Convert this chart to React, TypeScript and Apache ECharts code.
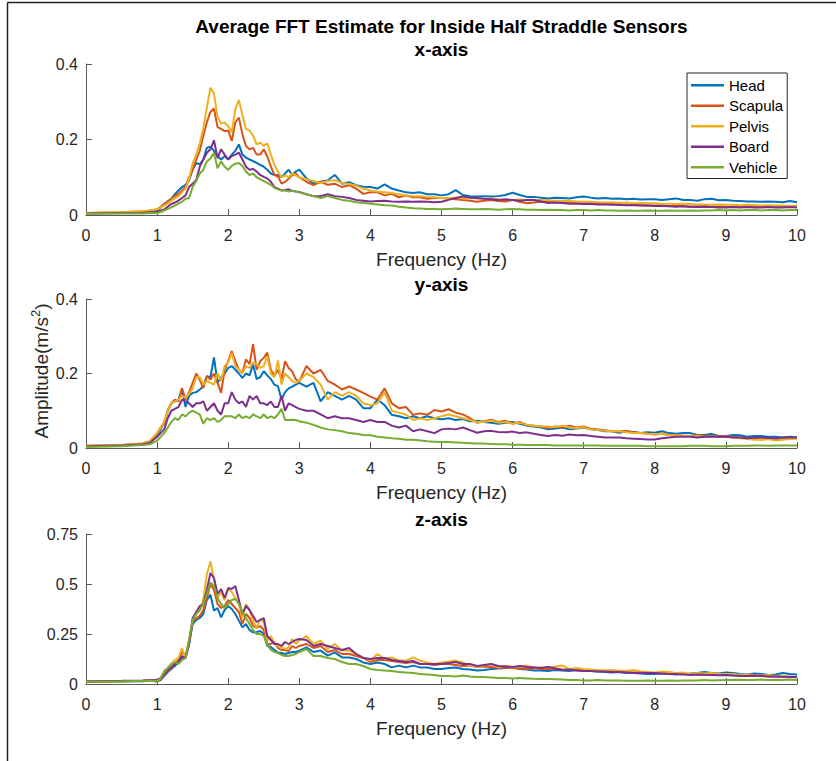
import { useEffect, useRef } from "react";
import * as echarts from "echarts";

const freq = [
  0, 0.5, 0.8, 0.9,
  1.0, 1.05, 1.1, 1.15, 1.2, 1.25, 1.3, 1.35, 1.4, 1.45, 1.5, 1.55, 1.6, 1.65, 1.7, 1.75, 1.8, 1.85, 1.9, 1.95,
  2.0, 2.05, 2.1, 2.15, 2.2, 2.25, 2.3, 2.35, 2.4, 2.45, 2.5, 2.55, 2.6, 2.65, 2.7, 2.75, 2.8, 2.85, 2.9, 2.95, 3.0,
  3.1, 3.2, 3.3, 3.4, 3.5, 3.6, 3.7, 3.8, 3.9, 4.0, 4.1, 4.2, 4.3, 4.4, 4.5, 4.6, 4.7, 4.8, 4.9, 5.0,
  5.1, 5.2, 5.3, 5.4, 5.5, 5.6, 5.7, 5.8, 5.9, 6.0, 6.1, 6.2, 6.3, 6.4, 6.5, 6.6, 6.7, 6.8, 6.9, 7.0,
  7.1, 7.2, 7.3, 7.4, 7.5, 7.6, 7.7, 7.8, 7.9, 8.0, 8.1, 8.2, 8.3, 8.4, 8.5, 8.6, 8.7, 8.8, 8.9, 9.0,
  9.1, 9.2, 9.3, 9.4, 9.5, 9.6, 9.7, 9.8, 9.9, 10.0,
];

const sensors = ["Head", "Scapula", "Pelvis", "Board", "Vehicle"];
const colors = ["#0072BD", "#D95319", "#EDB120", "#7E2F8E", "#77AC30"];
const panelTitles = ["x-axis", "y-axis", "z-axis"];
const yMax = [0.4, 0.4, 0.75];
const yStep = [0.2, 0.2, 0.25];

// ---- x-axis panel ----
const xHead = [
  0.005, 0.006, 0.007, 0.008,
  0.011, 0.02, 0.029, 0.036, 0.043, 0.055, 0.065, 0.074, 0.08, 0.092, 0.12, 0.138, 0.134, 0.147, 0.178, 0.181, 0.17, 0.156, 0.147, 0.156,
  0.147, 0.16, 0.17, 0.187, 0.16, 0.152, 0.147, 0.143, 0.138, 0.133, 0.128, 0.12, 0.11, 0.106, 0.106, 0.1, 0.11, 0.12, 0.106, 0.115, 0.12,
  0.097, 0.083, 0.088, 0.092, 0.106, 0.083, 0.087, 0.079, 0.075, 0.074, 0.07, 0.081, 0.07, 0.065, 0.06, 0.058, 0.06, 0.055, 0.055, 0.052,
  0.055, 0.066, 0.053, 0.05, 0.049, 0.05, 0.049, 0.05, 0.053, 0.059, 0.053, 0.048, 0.048, 0.046, 0.044, 0.046, 0.045, 0.044, 0.047, 0.049,
  0.046, 0.044, 0.045, 0.043, 0.044, 0.042, 0.043, 0.041, 0.042, 0.042, 0.04, 0.042, 0.044, 0.04, 0.04, 0.038, 0.042, 0.043, 0.039, 0.04,
  0.038, 0.037, 0.036, 0.036, 0.035, 0.036, 0.035, 0.034, 0.037, 0.034,
];
const xScapula = [
  0.005, 0.007, 0.01, 0.012,
  0.015, 0.022, 0.029, 0.035, 0.043, 0.05, 0.056, 0.065, 0.074, 0.1, 0.12, 0.147, 0.17, 0.21, 0.246, 0.273, 0.282, 0.233, 0.228, 0.222,
  0.224, 0.196, 0.245, 0.258, 0.214, 0.183, 0.174, 0.178, 0.16, 0.16, 0.174, 0.155, 0.128, 0.106, 0.102, 0.083, 0.088, 0.096, 0.106, 0.11, 0.1,
  0.088, 0.079, 0.088, 0.08, 0.083, 0.074, 0.079, 0.07, 0.056, 0.06, 0.06, 0.052, 0.056, 0.047, 0.052, 0.047, 0.047, 0.043, 0.045, 0.045,
  0.043, 0.042, 0.04, 0.038, 0.035, 0.038, 0.04, 0.037, 0.036, 0.04, 0.035, 0.031, 0.033, 0.036, 0.035, 0.034, 0.033, 0.035, 0.031, 0.031,
  0.032, 0.03, 0.03, 0.029, 0.027, 0.028, 0.027, 0.026, 0.025, 0.025, 0.026, 0.024, 0.025, 0.023, 0.022, 0.023, 0.024, 0.022, 0.023, 0.022,
  0.022, 0.023, 0.022, 0.024, 0.023, 0.022, 0.024, 0.023, 0.024, 0.024,
];
const xPelvis = [
  0.005, 0.007, 0.01, 0.012,
  0.015, 0.02, 0.025, 0.03, 0.038, 0.044, 0.05, 0.06, 0.07, 0.095, 0.137, 0.16, 0.19, 0.23, 0.285, 0.337, 0.323, 0.26, 0.242, 0.245,
  0.236, 0.219, 0.28, 0.305, 0.264, 0.228, 0.224, 0.21, 0.187, 0.192, 0.183, 0.19, 0.16, 0.133, 0.115, 0.1, 0.105, 0.1, 0.11, 0.105, 0.1,
  0.095, 0.09, 0.085, 0.09, 0.092, 0.085, 0.082, 0.078, 0.07, 0.065, 0.062, 0.06, 0.058, 0.055, 0.052, 0.05, 0.05, 0.048, 0.047, 0.045,
  0.045, 0.046, 0.044, 0.045, 0.044, 0.043, 0.044, 0.042, 0.041, 0.04, 0.041, 0.04, 0.039, 0.04, 0.039, 0.038, 0.038, 0.037, 0.036, 0.035,
  0.035, 0.034, 0.033, 0.034, 0.032, 0.033, 0.031, 0.032, 0.031, 0.031, 0.03, 0.03, 0.029, 0.03, 0.029, 0.028, 0.028, 0.027, 0.028, 0.027,
  0.027, 0.026, 0.027, 0.026, 0.025, 0.026, 0.025, 0.025, 0.024, 0.025,
];
const xBoard = [
  0.004, 0.005, 0.006, 0.007,
  0.008, 0.012, 0.015, 0.022, 0.029, 0.033, 0.038, 0.045, 0.052, 0.074, 0.083, 0.092, 0.128, 0.147, 0.165, 0.174, 0.198, 0.151, 0.174, 0.16,
  0.147, 0.156, 0.16, 0.165, 0.147, 0.128, 0.12, 0.122, 0.115, 0.106, 0.101, 0.097, 0.088, 0.074, 0.07, 0.065, 0.066, 0.068, 0.064, 0.062, 0.061,
  0.055, 0.05, 0.05, 0.055, 0.05, 0.048, 0.045, 0.04, 0.038, 0.036, 0.037, 0.038, 0.036, 0.035, 0.036, 0.035, 0.036, 0.035, 0.034, 0.035,
  0.04, 0.045, 0.049, 0.046, 0.045, 0.043, 0.042, 0.04, 0.041, 0.04, 0.038, 0.04, 0.04, 0.036, 0.032, 0.033, 0.032, 0.03, 0.03, 0.029,
  0.029, 0.028, 0.028, 0.027, 0.027, 0.026, 0.026, 0.025, 0.025, 0.024, 0.024, 0.023, 0.022, 0.023, 0.022, 0.021, 0.022, 0.021, 0.02, 0.02,
  0.021, 0.02, 0.021, 0.02, 0.02, 0.021, 0.02, 0.02, 0.021, 0.02,
];
const xVehicle = [
  0.003, 0.004, 0.004, 0.005,
  0.005, 0.008, 0.012, 0.016, 0.02, 0.025, 0.03, 0.035, 0.043, 0.045, 0.074, 0.09, 0.11, 0.12, 0.142, 0.15, 0.165, 0.124, 0.142, 0.128,
  0.12, 0.13, 0.136, 0.138, 0.13, 0.115, 0.106, 0.11, 0.1, 0.095, 0.09, 0.085, 0.08, 0.072, 0.068, 0.065, 0.065, 0.062, 0.064, 0.062, 0.06,
  0.055, 0.05, 0.045, 0.05, 0.045, 0.04, 0.038, 0.034, 0.032, 0.03, 0.028, 0.026, 0.025, 0.022, 0.02, 0.018, 0.017, 0.016, 0.016, 0.015,
  0.016, 0.017, 0.016, 0.015, 0.015, 0.016, 0.015, 0.014, 0.015, 0.016, 0.015, 0.014, 0.014, 0.013, 0.014, 0.013, 0.013, 0.012, 0.013, 0.013,
  0.012, 0.013, 0.012, 0.012, 0.011, 0.012, 0.011, 0.011, 0.012, 0.011, 0.011, 0.012, 0.011, 0.011, 0.012, 0.011, 0.012, 0.012, 0.013, 0.012,
  0.013, 0.012, 0.013, 0.013, 0.012, 0.013, 0.013, 0.012, 0.013, 0.013,
];

// ---- y-axis panel ----
const yHead = [
  0.005, 0.007, 0.01, 0.015,
  0.035, 0.05, 0.07, 0.1, 0.12, 0.125, 0.13, 0.157, 0.11, 0.14, 0.148, 0.15, 0.157, 0.165, 0.193, 0.19, 0.243, 0.175, 0.19, 0.2,
  0.215, 0.22, 0.21, 0.2, 0.188, 0.2, 0.195, 0.224, 0.185, 0.19, 0.206, 0.195, 0.185, 0.17, 0.166, 0.13, 0.15, 0.16, 0.165, 0.17, 0.175,
  0.165, 0.175, 0.125, 0.15, 0.14, 0.13, 0.14, 0.13, 0.107, 0.107, 0.13, 0.115, 0.089, 0.085, 0.08, 0.085, 0.08, 0.085, 0.08, 0.077,
  0.08, 0.075, 0.078, 0.072, 0.073, 0.07, 0.068, 0.065, 0.068, 0.07, 0.065, 0.06, 0.058, 0.055, 0.05, 0.052, 0.055, 0.05, 0.052, 0.055,
  0.05, 0.048, 0.045, 0.045, 0.041, 0.045, 0.043, 0.04, 0.042, 0.041, 0.045, 0.04, 0.038, 0.04, 0.04, 0.035, 0.035, 0.038, 0.032, 0.032,
  0.035, 0.034, 0.03, 0.032, 0.032, 0.03, 0.03, 0.028, 0.03, 0.028,
];
const yScapula = [
  0.006, 0.008, 0.012, 0.018,
  0.039, 0.055, 0.066, 0.1, 0.12, 0.13, 0.125, 0.161, 0.13, 0.15, 0.175, 0.2, 0.183, 0.161, 0.193, 0.184, 0.2, 0.175, 0.148, 0.21,
  0.233, 0.26, 0.233, 0.21, 0.202, 0.238, 0.225, 0.279, 0.21, 0.233, 0.242, 0.256, 0.21, 0.193, 0.21, 0.184, 0.233, 0.215, 0.206, 0.184, 0.179,
  0.22, 0.2, 0.21, 0.18, 0.17, 0.157, 0.165, 0.157, 0.148, 0.138, 0.13, 0.16, 0.12, 0.107, 0.11, 0.089, 0.093, 0.089, 0.102, 0.098,
  0.104, 0.095, 0.09, 0.08, 0.068, 0.072, 0.076, 0.07, 0.073, 0.065, 0.07, 0.062, 0.06, 0.058, 0.053, 0.058, 0.055, 0.06, 0.055, 0.058,
  0.052, 0.05, 0.048, 0.045, 0.044, 0.046, 0.042, 0.04, 0.038, 0.036, 0.038, 0.035, 0.034, 0.033, 0.032, 0.034, 0.032, 0.033, 0.03, 0.032,
  0.03, 0.028, 0.027, 0.025, 0.023, 0.025, 0.022, 0.024, 0.026, 0.028,
];
const yPelvis = [
  0.006, 0.008, 0.012, 0.018,
  0.04, 0.055, 0.07, 0.1, 0.12, 0.125, 0.13, 0.14, 0.135, 0.145, 0.16, 0.19, 0.19, 0.17, 0.18, 0.175, 0.17, 0.2, 0.18, 0.22,
  0.23, 0.255, 0.22, 0.21, 0.2, 0.22, 0.215, 0.23, 0.225, 0.215, 0.22, 0.247, 0.2, 0.19, 0.235, 0.17, 0.2, 0.19, 0.18, 0.175, 0.18,
  0.2, 0.19, 0.17, 0.13, 0.15, 0.14, 0.15, 0.14, 0.12, 0.115, 0.12, 0.15, 0.1, 0.095, 0.09, 0.075, 0.08, 0.075, 0.08, 0.085,
  0.09, 0.085, 0.08, 0.075, 0.07, 0.07, 0.074, 0.068, 0.07, 0.065, 0.068, 0.062, 0.06, 0.058, 0.058, 0.056, 0.06, 0.055, 0.054, 0.056,
  0.05, 0.048, 0.046, 0.045, 0.045, 0.042, 0.04, 0.04, 0.038, 0.037, 0.038, 0.035, 0.034, 0.032, 0.033, 0.032, 0.03, 0.031, 0.03, 0.03,
  0.028, 0.026, 0.024, 0.022, 0.022, 0.024, 0.02, 0.022, 0.024, 0.025,
];
const yBoard = [
  0.005, 0.007, 0.01, 0.014,
  0.03, 0.04, 0.05, 0.08, 0.1, 0.105, 0.11, 0.13, 0.125, 0.12, 0.11, 0.12, 0.12, 0.125, 0.1, 0.11, 0.12, 0.1, 0.09, 0.12,
  0.12, 0.15, 0.13, 0.12, 0.125, 0.11, 0.14, 0.13, 0.14, 0.12, 0.12, 0.115, 0.125, 0.11, 0.11, 0.14, 0.1, 0.12, 0.115, 0.11, 0.105,
  0.1, 0.1, 0.09, 0.08, 0.085, 0.08, 0.08, 0.075, 0.07, 0.075, 0.07, 0.07, 0.06, 0.055, 0.06, 0.045, 0.05, 0.045, 0.04, 0.05,
  0.052, 0.05, 0.055, 0.048, 0.041, 0.045, 0.046, 0.043, 0.042, 0.044, 0.04, 0.042, 0.038, 0.035, 0.032, 0.035, 0.033, 0.036, 0.034, 0.035,
  0.032, 0.03, 0.028, 0.028, 0.028, 0.026, 0.025, 0.024, 0.023, 0.023, 0.026, 0.028, 0.03, 0.03, 0.03, 0.028, 0.03, 0.03, 0.031, 0.03,
  0.028, 0.028, 0.026, 0.028, 0.028, 0.027, 0.026, 0.028, 0.028, 0.028,
];
const yVehicle = [
  0.003, 0.005, 0.008, 0.01,
  0.02, 0.03, 0.04, 0.055, 0.07, 0.08, 0.075, 0.09, 0.085, 0.095, 0.1, 0.095, 0.09, 0.065, 0.08, 0.075, 0.08, 0.07, 0.075, 0.085,
  0.085, 0.085, 0.08, 0.09, 0.08, 0.085, 0.08, 0.09, 0.085, 0.08, 0.09, 0.08, 0.085, 0.08, 0.09, 0.105, 0.075, 0.075, 0.076, 0.075, 0.072,
  0.068, 0.062, 0.055, 0.05, 0.048, 0.045, 0.04, 0.038, 0.035, 0.034, 0.03, 0.028, 0.026, 0.025, 0.022, 0.022, 0.02, 0.018, 0.017, 0.016,
  0.016, 0.015, 0.014, 0.013, 0.012, 0.012, 0.011, 0.01, 0.01, 0.009, 0.009, 0.008, 0.008, 0.008, 0.008, 0.007, 0.007, 0.007, 0.007, 0.007,
  0.007, 0.007, 0.006, 0.006, 0.006, 0.006, 0.006, 0.006, 0.005, 0.005, 0.005, 0.005, 0.005, 0.005, 0.006, 0.006, 0.006, 0.005, 0.005, 0.005,
  0.006, 0.006, 0.006, 0.007, 0.007, 0.006, 0.007, 0.007, 0.007, 0.007,
];

// ---- z-axis panel ----
const zHead = [
  0.01, 0.012, 0.014, 0.016,
  0.012, 0.02, 0.04, 0.06, 0.075, 0.09, 0.11, 0.125, 0.13, 0.2, 0.3, 0.32, 0.33, 0.35, 0.42, 0.447, 0.367, 0.38, 0.333, 0.37,
  0.39, 0.375, 0.35, 0.317, 0.283, 0.3, 0.27, 0.258, 0.26, 0.265, 0.25, 0.19, 0.185, 0.17, 0.158, 0.155, 0.15, 0.155, 0.16, 0.16, 0.167,
  0.183, 0.16, 0.167, 0.142, 0.158, 0.133, 0.133, 0.125, 0.108, 0.1, 0.108, 0.1, 0.083, 0.092, 0.083, 0.092, 0.083, 0.083, 0.075, 0.075,
  0.08, 0.082, 0.075, 0.072, 0.067, 0.07, 0.075, 0.078, 0.08, 0.083, 0.075, 0.072, 0.068, 0.067, 0.065, 0.07, 0.068, 0.065, 0.07, 0.067,
  0.065, 0.062, 0.06, 0.058, 0.06, 0.055, 0.055, 0.052, 0.05, 0.05, 0.052, 0.05, 0.048, 0.05, 0.052, 0.055, 0.06, 0.055, 0.052, 0.058,
  0.055, 0.05, 0.048, 0.052, 0.05, 0.045, 0.048, 0.055, 0.05, 0.047,
];
const zScapula = [
  0.012, 0.014, 0.016, 0.018,
  0.014, 0.025, 0.045, 0.065, 0.08, 0.1, 0.12, 0.16, 0.14, 0.22, 0.31, 0.33, 0.34, 0.37, 0.43, 0.5, 0.47, 0.4, 0.38, 0.39,
  0.42, 0.4, 0.38, 0.36, 0.3, 0.35, 0.33, 0.29, 0.28, 0.29, 0.27, 0.2, 0.2, 0.21, 0.18, 0.17, 0.17, 0.165, 0.19, 0.18, 0.19,
  0.2, 0.18, 0.19, 0.16, 0.17, 0.15, 0.15, 0.14, 0.13, 0.11, 0.12, 0.12, 0.115, 0.11, 0.105, 0.11, 0.1, 0.1, 0.095, 0.1,
  0.1, 0.095, 0.09, 0.092, 0.085, 0.088, 0.085, 0.08, 0.082, 0.08, 0.078, 0.075, 0.08, 0.075, 0.075, 0.078, 0.072, 0.07, 0.072, 0.07,
  0.068, 0.065, 0.066, 0.062, 0.062, 0.06, 0.058, 0.06, 0.056, 0.055, 0.054, 0.052, 0.05, 0.05, 0.05, 0.048, 0.046, 0.048, 0.045, 0.045,
  0.044, 0.042, 0.043, 0.04, 0.04, 0.038, 0.038, 0.036, 0.036, 0.035,
];
const zPelvis = [
  0.012, 0.014, 0.016, 0.018,
  0.013, 0.03, 0.067, 0.08, 0.1, 0.12, 0.13, 0.18, 0.13, 0.22, 0.32, 0.35, 0.37, 0.42, 0.55, 0.613, 0.525, 0.43, 0.46, 0.42,
  0.475, 0.46, 0.43, 0.4, 0.33, 0.4, 0.37, 0.317, 0.28, 0.325, 0.31, 0.217, 0.24, 0.2, 0.19, 0.183, 0.175, 0.183, 0.225, 0.2, 0.217,
  0.24, 0.2, 0.217, 0.175, 0.2, 0.167, 0.167, 0.15, 0.133, 0.117, 0.15, 0.125, 0.133, 0.117, 0.117, 0.133, 0.117, 0.108, 0.1, 0.108,
  0.112, 0.117, 0.108, 0.092, 0.083, 0.092, 0.1, 0.083, 0.092, 0.083, 0.088, 0.092, 0.083, 0.082, 0.083, 0.087, 0.092, 0.075, 0.08, 0.075,
  0.072, 0.07, 0.068, 0.07, 0.067, 0.065, 0.07, 0.062, 0.06, 0.058, 0.062, 0.06, 0.055, 0.058, 0.05, 0.055, 0.052, 0.055, 0.05, 0.05,
  0.05, 0.045, 0.048, 0.045, 0.042, 0.045, 0.04, 0.038, 0.036, 0.033,
];
const zBoard = [
  0.014, 0.016, 0.018, 0.02,
  0.02, 0.03, 0.05, 0.07, 0.085, 0.1, 0.11, 0.14, 0.13, 0.2, 0.33, 0.36, 0.39, 0.4, 0.47, 0.555, 0.53, 0.45, 0.475, 0.43,
  0.48, 0.475, 0.49, 0.42, 0.35, 0.39, 0.37, 0.34, 0.31, 0.32, 0.33, 0.24, 0.22, 0.2, 0.2, 0.19, 0.21, 0.2, 0.21, 0.22, 0.225,
  0.22, 0.19, 0.2, 0.19, 0.18, 0.17, 0.18, 0.15, 0.13, 0.125, 0.13, 0.13, 0.12, 0.115, 0.11, 0.115, 0.1, 0.1, 0.1, 0.1,
  0.105, 0.11, 0.1, 0.1, 0.09, 0.095, 0.1, 0.09, 0.088, 0.085, 0.09, 0.085, 0.083, 0.08, 0.085, 0.078, 0.07, 0.072, 0.068, 0.065,
  0.065, 0.062, 0.063, 0.06, 0.06, 0.058, 0.055, 0.056, 0.055, 0.055, 0.052, 0.05, 0.05, 0.048, 0.045, 0.048, 0.046, 0.045, 0.044, 0.045,
  0.042, 0.04, 0.04, 0.042, 0.04, 0.038, 0.037, 0.036, 0.035, 0.035,
];
const zVehicle = [
  0.012, 0.014, 0.016, 0.018,
  0.015, 0.03, 0.06, 0.08, 0.1, 0.11, 0.1, 0.12, 0.13, 0.22, 0.32, 0.35, 0.37, 0.4, 0.45, 0.508, 0.49, 0.43, 0.4, 0.38,
  0.4, 0.42, 0.425, 0.4, 0.36, 0.33, 0.3, 0.27, 0.25, 0.25, 0.24, 0.2, 0.17, 0.16, 0.155, 0.145, 0.14, 0.14, 0.145, 0.15, 0.16,
  0.175, 0.14, 0.14, 0.13, 0.125, 0.11, 0.1, 0.1, 0.09, 0.075, 0.07, 0.068, 0.065, 0.06, 0.058, 0.055, 0.05, 0.048, 0.045, 0.04,
  0.04, 0.038, 0.042, 0.038, 0.035, 0.035, 0.033, 0.03, 0.03, 0.028, 0.03, 0.028, 0.026, 0.025, 0.025, 0.024, 0.022, 0.02, 0.02, 0.018,
  0.018, 0.02, 0.018, 0.017, 0.017, 0.016, 0.016, 0.016, 0.018, 0.016, 0.016, 0.017, 0.016, 0.017, 0.018, 0.018, 0.02, 0.018, 0.019, 0.02,
  0.02, 0.021, 0.02, 0.02, 0.022, 0.02, 0.021, 0.02, 0.022, 0.02,
];

const panels = [
  [xHead, xScapula, xPelvis, xBoard, xVehicle],
  [yHead, yScapula, yPelvis, yBoard, yVehicle],
  [zHead, zScapula, zPelvis, zBoard, zVehicle],
];

const FONT = "'Liberation Sans', Arial, Helvetica, sans-serif";
const AXIS = "#595959";
const TEXT = "#262626";

const GRID_LEFT = 86;
const GRID_WIDTH = 711;
const gridTops = [64, 299, 534];
const gridHeights = [151, 149, 150];

export default function App() {
  const ref = useRef<HTMLDivElement>(null);

  useEffect(() => {
    if (!ref.current) return;
    const chart = echarts.init(ref.current, null, { renderer: "svg" });

    const grids = gridTops.map((t, i) => ({
      left: GRID_LEFT,
      top: t,
      width: GRID_WIDTH,
      height: gridHeights[i],
      containLabel: false,
    }));

    const xAxes = gridTops.map((_, i) => ({
      type: "value",
      gridIndex: i,
      min: 0,
      max: 10,
      interval: 1,
      name: "Frequency (Hz)",
      nameLocation: "middle",
      nameGap: 35,
      nameTextStyle: { fontSize: 19, color: TEXT, fontFamily: FONT },
      axisLine: { show: true, onZero: false, lineStyle: { color: AXIS, width: 1 } },
      axisTick: { show: true, inside: true, length: 6, lineStyle: { color: AXIS } },
      axisLabel: { fontSize: 16, color: TEXT, fontFamily: FONT, margin: 12 },
      splitLine: { show: false },
    }));

    const yAxes = gridTops.map((_, i) => ({
      type: "value",
      gridIndex: i,
      min: 0,
      max: yMax[i],
      interval: yStep[i],
      axisLine: { show: true, lineStyle: { color: AXIS, width: 1 } },
      axisTick: { show: true, inside: true, length: 6, lineStyle: { color: AXIS } },
      axisLabel: { fontSize: 16, color: TEXT, fontFamily: FONT, margin: 8 },
      splitLine: { show: false },
    }));

    const series: any[] = [];
    panels.forEach((panel, p) => {
      panel.forEach((vals, s) => {
        series.push({
          type: "line",
          name: sensors[s],
          xAxisIndex: p,
          yAxisIndex: p,
          data: freq.map((f, k) => [f, vals[k]]),
          showSymbol: false,
          symbol: "none",
          lineStyle: { width: 2, color: colors[s] },
          itemStyle: { color: colors[s] },
          z: 2 + s,
        });
      });
    });

    const centerX = GRID_LEFT + GRID_WIDTH / 2;

    const graphics: any[] = [
      {
        type: "line",
        shape: { x1: 7.5, y1: 2.5, x2: 836, y2: 2.5 },
        style: { stroke: "#222", lineWidth: 1.5 },
        silent: true,
      },
      {
        type: "line",
        shape: { x1: 7.5, y1: 2.5, x2: 7.5, y2: 761 },
        style: { stroke: "#222", lineWidth: 1.5 },
        silent: true,
      },
      {
        type: "text",
        x: centerX,
        y: 26,
        style: {
          text: "Average FFT Estimate for Inside Half Straddle Sensors",
          font: `bold 19px ${FONT}`,
          fill: "#000",
          textAlign: "center",
          textVerticalAlign: "middle",
        },
      },
      ...panelTitles.map((t, i) => ({
        type: "text",
        x: centerX,
        y: gridTops[i] - 15,
        style: {
          text: t,
          font: `bold 19px ${FONT}`,
          fill: "#000",
          textAlign: "center",
          textVerticalAlign: "middle",
        },
      })),
      {
        type: "text",
        x: 40,
        y: 371,
        rotation: Math.PI / 2,
        style: {
          text: "{a|Amplitude(m/s}{b|2}{a|)}",
          textAlign: "center",
          textVerticalAlign: "middle",
          fill: TEXT,
          rich: {
            a: { fontSize: 19, fontFamily: FONT, fill: TEXT, lineHeight: 22, verticalAlign: "bottom" },
            b: { fontSize: 13, fontFamily: FONT, fill: TEXT, lineHeight: 22, verticalAlign: "top", padding: [0, 0, 9, 0] },
          },
        },
      },
    ];

    chart.setOption({
      animation: false,
      backgroundColor: "#ffffff",
      textStyle: { fontFamily: FONT },
      grid: grids,
      xAxis: xAxes,
      yAxis: yAxes,
      legend: {
        data: sensors,
        orient: "vertical",
        left: 687,
        top: 73,
        icon: "rect",
        itemWidth: 33,
        itemHeight: 2.5,
        itemGap: 4,
        padding: [4, 4, 3, 4],
        borderColor: TEXT,
        borderWidth: 1,
        backgroundColor: "#ffffff",
        selectedMode: false,
        textStyle: { fontSize: 15, color: "#000", fontFamily: FONT, lineHeight: 16.5 },
      },
      graphic: graphics,
      series,
    });

    return () => chart.dispose();
  }, []);

  return (
    <div
      ref={ref}
      style={{ position: "absolute", left: 0, top: 0, width: 836, height: 761, background: "#fff" }}
    />
  );
}
